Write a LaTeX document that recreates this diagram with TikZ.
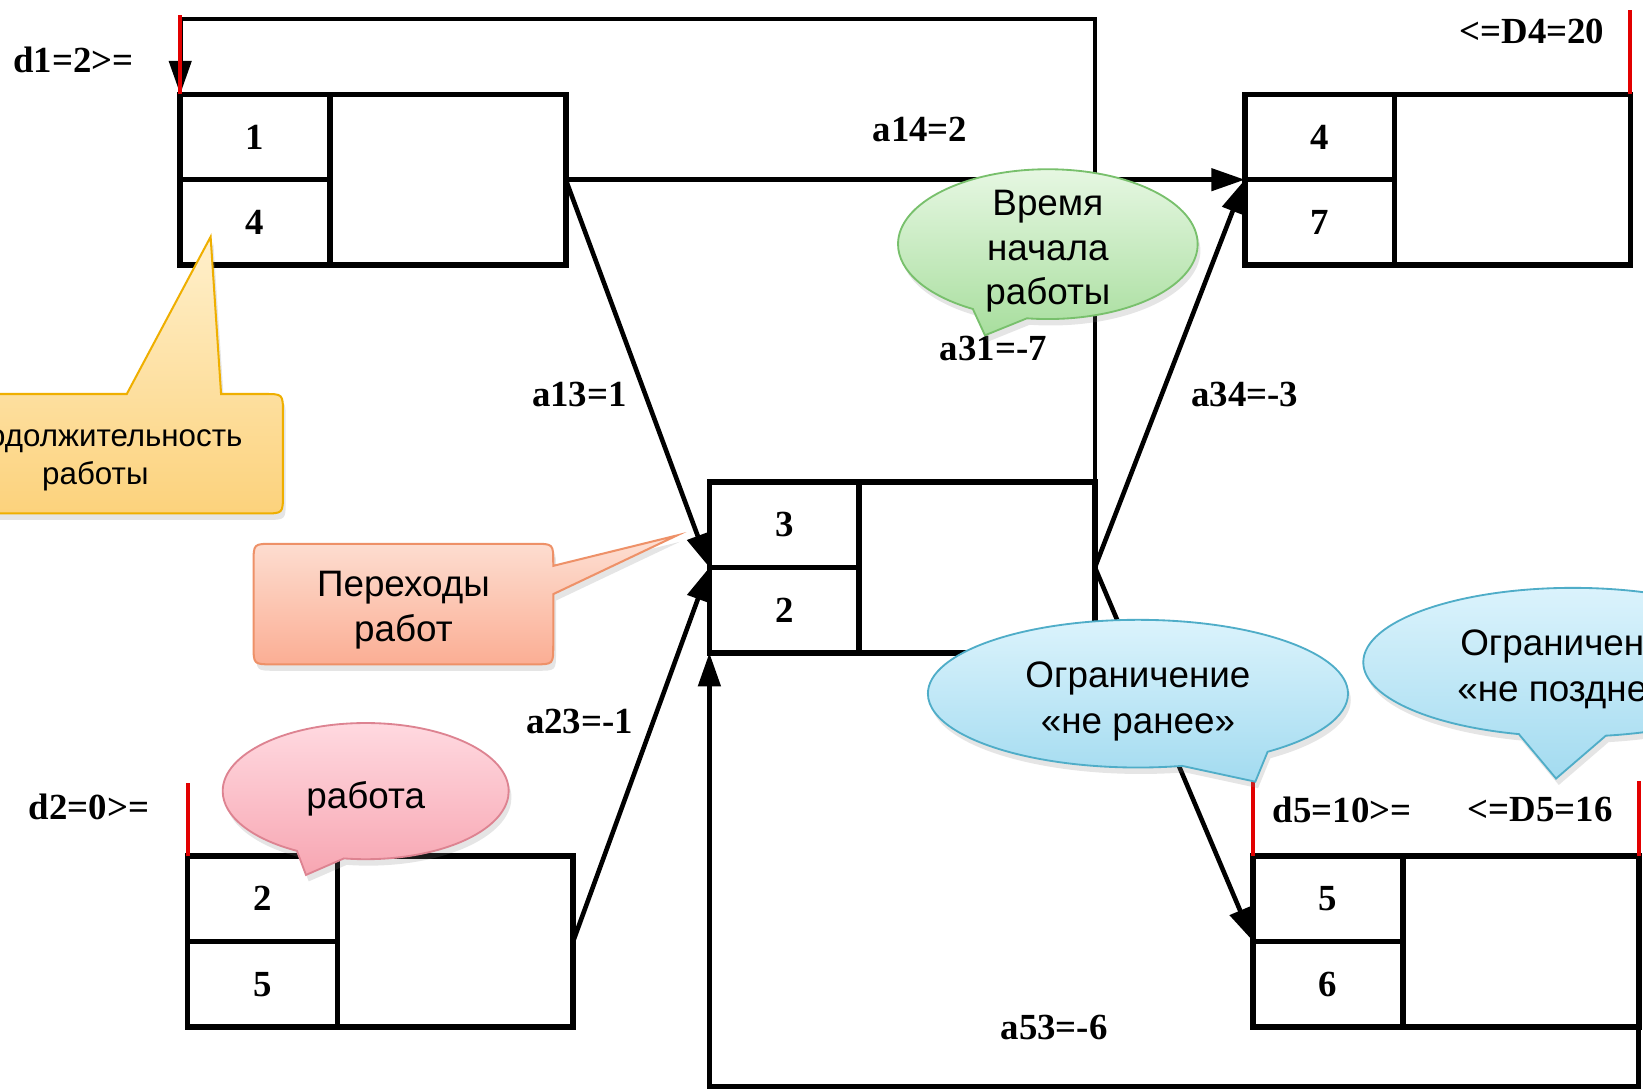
\documentclass[tikz,border=0pt]{standalone}
\usepackage{fontspec}
\setmainfont{Liberation Serif}
\newfontfamily\callfont{Liberation Sans}
\usetikzlibrary{arrows.meta,shapes.callouts,shadows}

\definecolor{markred}{RGB}{226,0,0}
\definecolor{ylwtop}{HTML}{FFF0CC}\definecolor{ylwbot}{HTML}{FCD27C}\definecolor{ylwline}{HTML}{EFAF00}
\definecolor{orgtop}{HTML}{FDE0D4}\definecolor{orgbot}{HTML}{FBAE94}\definecolor{orgline}{HTML}{EE9168}
\definecolor{grntop}{HTML}{E6F7E2}\definecolor{grnbot}{HTML}{A8DE9E}\definecolor{grnline}{HTML}{78C06C}
\definecolor{pnktop}{HTML}{FFD9E0}\definecolor{pnkbot}{HTML}{F7A6B2}\definecolor{pnkline}{HTML}{DD8391}
\definecolor{blutop}{HTML}{DBF3FC}\definecolor{blubot}{HTML}{A3DBF0}\definecolor{bluline}{HTML}{4FADC8}

\tikzset{
  wframe/.style={draw, line width=3pt, minimum width=7.36cm, minimum height=3.26cm,
                 inner sep=0pt, outer sep=0pt},
  wcell/.style={draw, line width=3pt, minimum width=2.86cm, minimum height=1.63cm,
                inner sep=0pt, outer sep=0pt, font=\fontsize{20}{24}\selectfont\bfseries},
  link/.style={line width=2.5pt, -{Triangle[length=0.64cm,width=0.42cm]}},
  redtick/.style={markred, line width=2.2pt},
  lbl/.style={font=\fontsize{20}{24}\selectfont\bfseries, inner sep=0pt},
  calltext/.style={font=\callfont\fontsize{20}{24.5}\selectfont, align=center, inner sep=0pt},
  softshadow/.style={drop shadow={shadow xshift=1.5pt, shadow yshift=-3.5pt, opacity=0.2}},
  ylwcall/.style={draw=ylwline, line width=1.1pt, top color=ylwtop, bottom color=ylwbot, softshadow},
  orgcall/.style={draw=orgline, line width=1.1pt, top color=orgtop, bottom color=orgbot, softshadow},
  grncall/.style={ellipse callout, draw=grnline, line width=1pt, top color=grntop, bottom color=grnbot,
                  softshadow, inner sep=0pt},
  pnkcall/.style={ellipse callout, draw=pnkline, line width=1pt, top color=pnktop, bottom color=pnkbot,
                  softshadow, inner sep=0pt},
  blucall/.style={ellipse callout, draw=bluline, line width=1pt, top color=blutop, bottom color=blubot,
                  softshadow, inner sep=0pt},
}

% a work: frame with two numbered cells on its left side
\newcommand\workbox[4]{%
  \node[wframe, anchor=north west] (#1) at (#2) {};
  \node[wcell, anchor=north west] (#1-top) at (#1.north west) {#3};
  \node[wcell, anchor=north west] (#1-bot) at (#1-top.south west) {#4};
}

\begin{document}
\begin{tikzpicture}[x=0.02cm, y=-0.02cm]
\useasboundingbox (0,0) rectangle (1568,1041);
\clip (0,0) rectangle (1568,1041);
\fill[white] (0,0) rectangle (1568,1041);

% works
\workbox{b1}{172,90}{1}{4}
\workbox{b4}{1188,90}{4}{7}
\workbox{b3}{677,460}{3}{2}
\workbox{b2}{179,817}{2}{5}
\workbox{b5}{1196,817}{5}{6}

% helper levels for the loops
\coordinate (topy) at (0,18);
\coordinate (boty) at (0,1037);
\coordinate (t31) at (b3.north east |- topy);
\coordinate (c53) at (b5.south east |- boty);

% transitions
\draw[link] (b1.east) -- (b4.west);
\draw[link] (b1.east) -- (b3.west);
\draw[link] (b2.east) -- (b3.west);
\draw[link] (b3.east) -- (b4.west);
\draw[link] (b3.east) -- (b5.west);
\draw[link] (b3.north east) -- (t31) -| (b1.north west);
\draw[link] (b5.south east) -- (c53) -| (b3.south west);

% deadline marks
\draw[redtick] (b1.north west) -- ++(0,-76);
\draw[redtick] (b4.north east) -- ++(0,-80);
\draw[redtick] (b2.north west) -- ++(0,-70);
\draw[redtick] (b5.north west) -- ++(0,-72);
\draw[redtick] (b5.north east) -- ++(0,-72);

% labels
\node[lbl] (ld1) at (70,57) {d1=2>=};
\node[lbl] (la14) at (878,124) {a14=2};
\node[lbl] (lD4) at (1462,30) {<=D4=20};
\node[lbl] (la13) at (553,376) {a13=1};
\node[lbl] (la31) at (948,333) {a31=-7};
\node[lbl] (la34) at (1188,376) {a34=-3};
\node[lbl] (la23) at (553,689) {a23=-1};
\node[lbl] (ld2) at (85,770) {d2=0>=};
\node[lbl] (ld5) at (1281,773) {d5=10>=};
\node[lbl] (lD5) at (1470,773) {<=D5=16};
\node[lbl] (la53) at (1006,981) {a53=-6};

% callout: duration
\path[ylwcall] (270,430) -- (270,472) .. controls (270,490) .. (252,490) -- (-72,490)
  .. controls (-90,490) .. (-90,472) -- (-90,394) .. controls (-90,376) .. (-72,376)
  -- (121,376) -- (201,226) -- (211,376) -- (252,376) .. controls (270,376) .. (270,394) -- cycle;
\node[calltext, font=\callfont\fontsize{17}{20.5}\selectfont] (tdur) at (91,437)
  {Продолжительность\\работы};

% callout: transitions
\path[orgcall] (385,634) -- (260,634) .. controls (242,634) .. (242,616) -- (242,537)
  .. controls (242,519) .. (260,519) -- (510,519) .. controls (528,519) .. (528,537)
  -- (528,540) -- (646,511) -- (528,567) -- (528,616) .. controls (528,634) .. (510,634) -- cycle;
\node[calltext] (ttrans) at (385,582) {Переходы\\работ};

% callout: start time
\node[grncall, minimum width=5.72cm, minimum height=2.86cm,
      callout absolute pointer={(940,320)}, callout pointer arc=22] (cstart) at (1000,233) {};
\node[calltext, font=\callfont\fontsize{20}{24.2}\selectfont] (tstart) at ([yshift=-4pt]cstart.center)
  {Время\\начала\\работы};

% callout: work
\node[pnkcall, minimum width=5.46cm, minimum height=2.6cm,
      callout absolute pointer={(292,835)}, callout pointer arc=20] (cwork) at (349,755) {};
\node[calltext] (twork) at ([yshift=-4pt]cwork.center) {работа};

% callout: not earlier
\node[blucall, minimum width=8.02cm, minimum height=2.82cm,
      callout absolute pointer={(1198,746)}, callout pointer arc=26] (cearly) at (1086,662) {};
\node[calltext, font=\callfont\fontsize{20}{25}\selectfont] (tearly) at ([yshift=-4pt]cearly.center)
  {Ограничение\\«не ранее»};

% callout: not later
\node[blucall, minimum width=8.0cm, minimum height=2.84cm,
      callout absolute pointer={(1485,743)}, callout pointer arc=24] (clate) at (1501,632) {};
\node[calltext, font=\callfont\fontsize{20}{25}\selectfont] (tlate) at ([yshift=-4pt]clate.center)
  {Ограничение\\«не позднее»};
\end{tikzpicture}
\end{document}
